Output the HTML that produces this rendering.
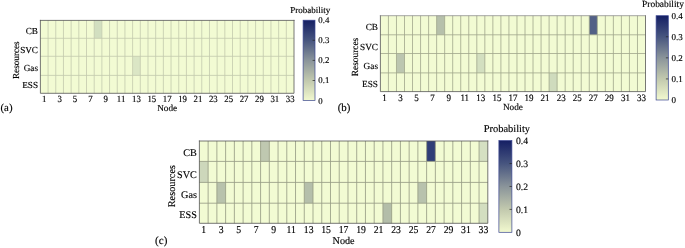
<!DOCTYPE html>
<html><head><meta charset="utf-8"><style>
html,body{margin:0;padding:0;background:#fff;}
body{width:685px;height:248px;overflow:hidden;}
svg{display:block;will-change:transform;}
text{font-family:"Liberation Serif", serif;fill:#000;text-rendering:geometricPrecision;stroke:#000;stroke-width:0.15px;}
</style></head><body>
<svg width="685" height="248" viewBox="0 0 685 248">
<defs>
<linearGradient id="cmap" x1="0" y1="1" x2="0" y2="0"><stop offset="0" stop-color="#f2f9cf"/><stop offset="0.25" stop-color="#c2c9ae"/><stop offset="0.5" stop-color="#8a949a"/><stop offset="0.75" stop-color="#47557f"/><stop offset="1" stop-color="#151f64"/></linearGradient>
</defs>
<rect x="40.4" y="20.4" width="253.6" height="72.9" fill="#f2fbd3"/>
<rect x="94.19" y="20.4" width="7.68" height="17.9" fill="#d2dfc0"/>
<rect x="132.62" y="56.3" width="7.68" height="19.1" fill="#dbe6c5"/>
<path d="M48.08 20.4V93.3M55.77 20.4V93.3M63.45 20.4V93.3M71.14 20.4V93.3M78.82 20.4V93.3M86.51 20.4V93.3M94.19 20.4V93.3M101.88 20.4V93.3M109.56 20.4V93.3M117.25 20.4V93.3M124.93 20.4V93.3M132.62 20.4V93.3M140.3 20.4V93.3M147.99 20.4V93.3M155.67 20.4V93.3M163.36 20.4V93.3M171.04 20.4V93.3M178.73 20.4V93.3M186.41 20.4V93.3M194.1 20.4V93.3M201.78 20.4V93.3M209.47 20.4V93.3M217.15 20.4V93.3M224.84 20.4V93.3M232.52 20.4V93.3M240.21 20.4V93.3M247.89 20.4V93.3M255.58 20.4V93.3M263.26 20.4V93.3M270.95 20.4V93.3M278.63 20.4V93.3M286.32 20.4V93.3M40.4 38.3H294M40.4 56.3H294M40.4 75.4H294" stroke="#c3c9ad" stroke-width="0.8" fill="none"/>
<path d="M40.4 20.4V93.3H294V20.4" fill="none" stroke="#555" stroke-width="0.8" stroke-linecap="square"/>
<path d="M40.4 20.4H294" fill="none" stroke="#555" stroke-width="0.8" stroke-linecap="square"/>
<text x="38" y="33.81" text-anchor="end" font-size="9.2">CB</text>
<text x="38" y="53.31" text-anchor="end" font-size="9.2">SVC</text>
<text x="38" y="70.71" text-anchor="end" font-size="9.2">Gas</text>
<text x="38" y="88.11" text-anchor="end" font-size="9.2">ESS</text>
<text transform="translate(18.7 60.2) rotate(-90)" text-anchor="middle" font-size="9.2">Resources</text>
<text transform="translate(44.24 102.02) scale(1 1.08)" text-anchor="middle" font-size="8.8">1</text>
<text transform="translate(59.61 102.02) scale(1 1.08)" text-anchor="middle" font-size="8.8">3</text>
<text transform="translate(74.98 102.02) scale(1 1.08)" text-anchor="middle" font-size="8.8">5</text>
<text transform="translate(90.35 102.02) scale(1 1.08)" text-anchor="middle" font-size="8.8">7</text>
<text transform="translate(105.72 102.02) scale(1 1.08)" text-anchor="middle" font-size="8.8">9</text>
<text transform="translate(121.09 102.02) scale(1 1.08)" text-anchor="middle" font-size="8.8">11</text>
<text transform="translate(136.46 102.02) scale(1 1.08)" text-anchor="middle" font-size="8.8">13</text>
<text transform="translate(151.83 102.02) scale(1 1.08)" text-anchor="middle" font-size="8.8">15</text>
<text transform="translate(167.2 102.02) scale(1 1.08)" text-anchor="middle" font-size="8.8">17</text>
<text transform="translate(182.57 102.02) scale(1 1.08)" text-anchor="middle" font-size="8.8">19</text>
<text transform="translate(197.94 102.02) scale(1 1.08)" text-anchor="middle" font-size="8.8">21</text>
<text transform="translate(213.31 102.02) scale(1 1.08)" text-anchor="middle" font-size="8.8">23</text>
<text transform="translate(228.68 102.02) scale(1 1.08)" text-anchor="middle" font-size="8.8">25</text>
<text transform="translate(244.05 102.02) scale(1 1.08)" text-anchor="middle" font-size="8.8">27</text>
<text transform="translate(259.42 102.02) scale(1 1.08)" text-anchor="middle" font-size="8.8">29</text>
<text transform="translate(274.79 102.02) scale(1 1.08)" text-anchor="middle" font-size="8.8">31</text>
<text transform="translate(290.16 102.02) scale(1 1.08)" text-anchor="middle" font-size="8.8">33</text>
<text x="167.2" y="111.01" text-anchor="middle" font-size="9.2">Node</text>
<rect x="303.1" y="20.2" width="11.9" height="80.4" fill="url(#cmap)" stroke="#3a4590" stroke-width="0.7"/>
<path d="M312.6 80.5H315M312.6 60.4H315M312.6 40.3H315" stroke="#222" stroke-width="0.7"/>
<text x="318.3" y="103.57" font-size="8.8">0</text>
<text x="318.3" y="83.47" font-size="8.8">0.1</text>
<text x="318.3" y="63.37" font-size="8.8">0.2</text>
<text x="318.3" y="43.27" font-size="8.8">0.3</text>
<text x="318.3" y="23.17" font-size="8.8">0.4</text>
<text x="310.2" y="12.55" text-anchor="middle" font-size="9">Probability</text>
<text x="0.5" y="111.16" font-size="10.8">(a)</text>
<rect x="380.4" y="15.7" width="265.1" height="75.9" fill="#f2fbd3"/>
<rect x="436.63" y="15.7" width="8.03" height="19.1" fill="#b6c0ab"/>
<rect x="589.27" y="15.7" width="8.03" height="19.1" fill="#526086"/>
<rect x="396.47" y="53.5" width="8.03" height="19.4" fill="#bcc6b0"/>
<rect x="476.8" y="53.5" width="8.03" height="19.4" fill="#d3dfc0"/>
<rect x="549.1" y="72.9" width="8.03" height="18.7" fill="#cfdbbd"/>
<path d="M388.43 15.7V91.6M396.47 15.7V91.6M404.5 15.7V91.6M412.53 15.7V91.6M420.57 15.7V91.6M428.6 15.7V91.6M436.63 15.7V91.6M444.67 15.7V91.6M452.7 15.7V91.6M460.73 15.7V91.6M468.77 15.7V91.6M476.8 15.7V91.6M484.83 15.7V91.6M492.87 15.7V91.6M500.9 15.7V91.6M508.93 15.7V91.6M516.97 15.7V91.6M525 15.7V91.6M533.03 15.7V91.6M541.07 15.7V91.6M549.1 15.7V91.6M557.13 15.7V91.6M565.17 15.7V91.6M573.2 15.7V91.6M581.23 15.7V91.6M589.27 15.7V91.6M597.3 15.7V91.6M605.33 15.7V91.6M613.37 15.7V91.6M621.4 15.7V91.6M629.43 15.7V91.6M637.47 15.7V91.6M380.4 34.8H645.5M380.4 53.5H645.5M380.4 72.9H645.5" stroke="#a0a68c" stroke-width="0.8" fill="none"/>
<path d="M380.4 15.7V91.6H645.5V15.7" fill="none" stroke="#555" stroke-width="0.8" stroke-linecap="square"/>
<path d="M380.4 15.7H645.5" fill="none" stroke="#8e8e8e" stroke-width="0.8" stroke-linecap="square"/>
<text x="378" y="29.68" text-anchor="end" font-size="9.25">CB</text>
<text x="378" y="50.38" text-anchor="end" font-size="9.25">SVC</text>
<text x="378" y="68.53" text-anchor="end" font-size="9.25">Gas</text>
<text x="378" y="86.83" text-anchor="end" font-size="9.25">ESS</text>
<text transform="translate(358.3 57) rotate(-90)" text-anchor="middle" font-size="9.4">Resources</text>
<text transform="translate(384.42 100.94) scale(1 1.08)" text-anchor="middle" font-size="9">1</text>
<text transform="translate(400.48 100.94) scale(1 1.08)" text-anchor="middle" font-size="9">3</text>
<text transform="translate(416.55 100.94) scale(1 1.08)" text-anchor="middle" font-size="9">5</text>
<text transform="translate(432.62 100.94) scale(1 1.08)" text-anchor="middle" font-size="9">7</text>
<text transform="translate(448.68 100.94) scale(1 1.08)" text-anchor="middle" font-size="9">9</text>
<text transform="translate(464.75 100.94) scale(1 1.08)" text-anchor="middle" font-size="9">11</text>
<text transform="translate(480.82 100.94) scale(1 1.08)" text-anchor="middle" font-size="9">13</text>
<text transform="translate(496.88 100.94) scale(1 1.08)" text-anchor="middle" font-size="9">15</text>
<text transform="translate(512.95 100.94) scale(1 1.08)" text-anchor="middle" font-size="9">17</text>
<text transform="translate(529.02 100.94) scale(1 1.08)" text-anchor="middle" font-size="9">19</text>
<text transform="translate(545.08 100.94) scale(1 1.08)" text-anchor="middle" font-size="9">21</text>
<text transform="translate(561.15 100.94) scale(1 1.08)" text-anchor="middle" font-size="9">23</text>
<text transform="translate(577.22 100.94) scale(1 1.08)" text-anchor="middle" font-size="9">25</text>
<text transform="translate(593.28 100.94) scale(1 1.08)" text-anchor="middle" font-size="9">27</text>
<text transform="translate(609.35 100.94) scale(1 1.08)" text-anchor="middle" font-size="9">29</text>
<text transform="translate(625.42 100.94) scale(1 1.08)" text-anchor="middle" font-size="9">31</text>
<text transform="translate(641.48 100.94) scale(1 1.08)" text-anchor="middle" font-size="9">33</text>
<text x="512.95" y="110.03" text-anchor="middle" font-size="9.25">Node</text>
<rect x="656.1" y="15.7" width="12.2" height="84.3" fill="url(#cmap)" stroke="#3a4590" stroke-width="0.7"/>
<path d="M665.9 78.92H668.3M665.9 57.85H668.3M665.9 36.78H668.3" stroke="#222" stroke-width="0.7"/>
<text x="671.5" y="103.04" font-size="9">0</text>
<text x="671.5" y="81.97" font-size="9">0.1</text>
<text x="671.5" y="60.89" font-size="9">0.2</text>
<text x="671.5" y="39.82" font-size="9">0.3</text>
<text x="671.5" y="18.74" font-size="9">0.4</text>
<text x="663" y="6.69" text-anchor="middle" font-size="9.45">Probability</text>
<text x="337.7" y="110.9" font-size="10.9">(b)</text>
<rect x="199.4" y="141" width="288.4" height="82.3" fill="#f2fbd3"/>
<rect x="260.58" y="141" width="8.74" height="20.4" fill="#bfc8b0"/>
<rect x="426.62" y="141" width="8.74" height="20.4" fill="#303e77"/>
<rect x="479.06" y="141" width="8.74" height="20.4" fill="#d5e0c2"/>
<rect x="199.4" y="161.4" width="8.74" height="21" fill="#cdd7bb"/>
<rect x="216.88" y="182.4" width="8.74" height="20.8" fill="#b8c2ac"/>
<rect x="304.27" y="182.4" width="8.74" height="20.8" fill="#b5bfab"/>
<rect x="417.88" y="182.4" width="8.74" height="20.8" fill="#b8c2ad"/>
<rect x="382.93" y="203.2" width="8.74" height="20.1" fill="#b3bda9"/>
<rect x="479.06" y="203.2" width="8.74" height="20.1" fill="#d3dec0"/>
<path d="M208.14 141V223.3M216.88 141V223.3M225.62 141V223.3M234.36 141V223.3M243.1 141V223.3M251.84 141V223.3M260.58 141V223.3M269.32 141V223.3M278.05 141V223.3M286.79 141V223.3M295.53 141V223.3M304.27 141V223.3M313.01 141V223.3M321.75 141V223.3M330.49 141V223.3M339.23 141V223.3M347.97 141V223.3M356.71 141V223.3M365.45 141V223.3M374.19 141V223.3M382.93 141V223.3M391.67 141V223.3M400.41 141V223.3M409.15 141V223.3M417.88 141V223.3M426.62 141V223.3M435.36 141V223.3M444.1 141V223.3M452.84 141V223.3M461.58 141V223.3M470.32 141V223.3M479.06 141V223.3M199.4 161.4H487.8M199.4 182.4H487.8M199.4 203.2H487.8" stroke="#979d85" stroke-width="0.85" fill="none"/>
<path d="M199.4 141V223.3H487.8V141" fill="none" stroke="#555" stroke-width="0.8" stroke-linecap="square"/>
<path d="M199.4 141H487.8" fill="none" stroke="#555" stroke-width="0.8" stroke-linecap="square"/>
<text x="196.9" y="155.69" text-anchor="end" font-size="10.2">CB</text>
<text x="196.9" y="178.39" text-anchor="end" font-size="10.2">SVC</text>
<text x="196.9" y="198.19" text-anchor="end" font-size="10.2">Gas</text>
<text x="196.9" y="218.09" text-anchor="end" font-size="10.2">ESS</text>
<text transform="translate(175 186.15) rotate(-90)" text-anchor="middle" font-size="10.25">Resources</text>
<text transform="translate(203.77 233.28) scale(1 1.08)" text-anchor="middle" font-size="9.7">1</text>
<text transform="translate(221.25 233.28) scale(1 1.08)" text-anchor="middle" font-size="9.7">3</text>
<text transform="translate(238.73 233.28) scale(1 1.08)" text-anchor="middle" font-size="9.7">5</text>
<text transform="translate(256.21 233.28) scale(1 1.08)" text-anchor="middle" font-size="9.7">7</text>
<text transform="translate(273.68 233.28) scale(1 1.08)" text-anchor="middle" font-size="9.7">9</text>
<text transform="translate(291.16 233.28) scale(1 1.08)" text-anchor="middle" font-size="9.7">11</text>
<text transform="translate(308.64 233.28) scale(1 1.08)" text-anchor="middle" font-size="9.7">13</text>
<text transform="translate(326.12 233.28) scale(1 1.08)" text-anchor="middle" font-size="9.7">15</text>
<text transform="translate(343.6 233.28) scale(1 1.08)" text-anchor="middle" font-size="9.7">17</text>
<text transform="translate(361.08 233.28) scale(1 1.08)" text-anchor="middle" font-size="9.7">19</text>
<text transform="translate(378.56 233.28) scale(1 1.08)" text-anchor="middle" font-size="9.7">21</text>
<text transform="translate(396.04 233.28) scale(1 1.08)" text-anchor="middle" font-size="9.7">23</text>
<text transform="translate(413.52 233.28) scale(1 1.08)" text-anchor="middle" font-size="9.7">25</text>
<text transform="translate(430.99 233.28) scale(1 1.08)" text-anchor="middle" font-size="9.7">27</text>
<text transform="translate(448.47 233.28) scale(1 1.08)" text-anchor="middle" font-size="9.7">29</text>
<text transform="translate(465.95 233.28) scale(1 1.08)" text-anchor="middle" font-size="9.7">31</text>
<text transform="translate(483.43 233.28) scale(1 1.08)" text-anchor="middle" font-size="9.7">33</text>
<text x="343.6" y="244.04" text-anchor="middle" font-size="10.2">Node</text>
<rect x="498.9" y="140.6" width="13" height="91.7" fill="url(#cmap)" stroke="#3a4590" stroke-width="0.7"/>
<path d="M509.5 209.38H511.9M509.5 186.45H511.9M509.5 163.53H511.9" stroke="#222" stroke-width="0.7"/>
<text x="515.9" y="235.58" font-size="9.7">0</text>
<text x="515.9" y="212.65" font-size="9.7">0.1</text>
<text x="515.9" y="189.73" font-size="9.7">0.2</text>
<text x="515.9" y="166.8" font-size="9.7">0.3</text>
<text x="515.9" y="143.88" font-size="9.7">0.4</text>
<text x="506.9" y="132.02" text-anchor="middle" font-size="10.45">Probability</text>
<text x="155.1" y="243.83" font-size="11">(c)</text>
</svg>
</body></html>
